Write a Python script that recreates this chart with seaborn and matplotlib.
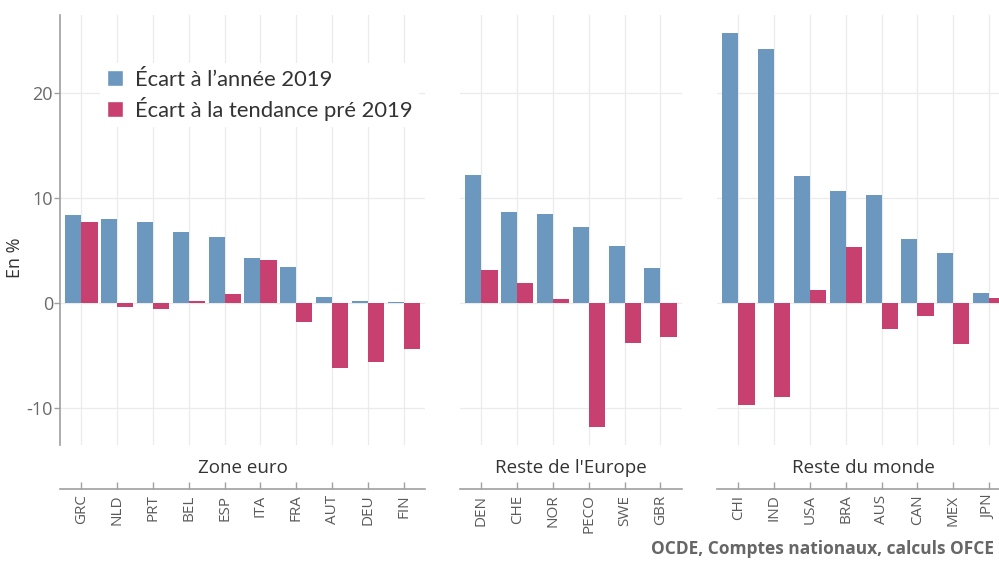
import matplotlib
matplotlib.use('Agg')
import matplotlib.pyplot as plt
import seaborn as sns
import pandas as pd
from matplotlib.patches import Patch

sns.set_theme(style='white')
plt.rcParams['font.family'] = ['Open Sans', 'DejaVu Sans']
plt.rcParams['axes.unicode_minus'] = False

# ---------------- data ----------------
series = ["Écart à l’année 2019", "Écart à la tendance pré 2019"]
couleurs = ['#6c97be', '#c8406f']

groupes = ['Zone euro', "Reste de l'Europe", 'Reste du monde']

pays_zone_euro = ['GRC', 'NLD', 'PRT', 'BEL', 'ESP', 'ITA', 'FRA', 'AUT', 'DEU', 'FIN']
ecart_2019_zone_euro = [8.4, 8.0, 7.7, 6.8, 6.3, 4.3, 3.4, 0.6, 0.2, 0.1]
ecart_tendance_zone_euro = [7.7, -0.4, -0.6, 0.2, 0.9, 4.1, -1.8, -6.2, -5.6, -4.4]

pays_europe = ['DEN', 'CHE', 'NOR', 'PECO', 'SWE', 'GBR']
ecart_2019_europe = [12.2, 8.7, 8.5, 7.2, 5.4, 3.3]
ecart_tendance_europe = [3.1, 1.9, 0.4, -11.8, -3.8, -3.2]

pays_monde = ['CHI', 'IND', 'USA', 'BRA', 'AUS', 'CAN', 'MEX', 'JPN']
ecart_2019_monde = [25.7, 24.2, 12.1, 10.7, 10.3, 6.1, 4.8, 1.0]
ecart_tendance_monde = [-9.7, -8.9, 1.2, 5.3, -2.5, -1.2, -3.9, 0.5]

yticks = [-10, 0, 10, 20]
source = 'OCDE, Comptes nationaux, calculs OFCE'

panneaux = [
    (groupes[0], pays_zone_euro, ecart_2019_zone_euro, ecart_tendance_zone_euro),
    (groupes[1], pays_europe, ecart_2019_europe, ecart_tendance_europe),
    (groupes[2], pays_monde, ecart_2019_monde, ecart_tendance_monde),
]

# ---------------- layout (pixels) ----------------
W, H = 999, 561
fig = plt.figure(figsize=(W / 100, H / 100), dpi=100)
fig.patch.set_facecolor('white')

spacing = 35.8
top_px, bottom_px = 15, 445
lefts = [60, 460, 717]
grid_c = '#ebebeb'
axis_c = '#a0a0a0'

for i, (groupe, pays, v1, v2) in enumerate(panneaux):
    n = len(pays)
    w_px = (n + 0.2) * spacing
    ax = fig.add_axes([lefts[i] / W, 1 - bottom_px / H, w_px / W, (bottom_px - top_px) / H])
    df = pd.DataFrame({
        'pays': pays * 2,
        'série': [series[0]] * n + [series[1]] * n,
        'valeur': list(v1) + list(v2),
    })
    sns.barplot(data=df, x='pays', y='valeur', hue='série', order=pays,
                hue_order=series, palette=couleurs, saturation=1, width=0.9,
                gap=0, errorbar=None, legend=False, ax=ax, linewidth=0)
    ax.set_xlim(-0.6, n - 0.4)
    ax.set_ylim(-13.5, 27.4)
    ax.set_yticks(yticks)
    ax.set_axisbelow(True)
    ax.grid(True, color=grid_c, lw=0.9)
    ax.set_xlabel('')
    ax.set_ylabel('')
    for s in ['top', 'right']:
        ax.spines[s].set_visible(False)
    ax.spines['bottom'].set_position(('outward', 44 * 0.72))
    ax.spines['bottom'].set_color(axis_c)
    ax.spines['bottom'].set_linewidth(1.2)
    ax.tick_params(axis='x', bottom=True, direction='in', length=5, width=1,
                   color=axis_c, labelrotation=90, labelsize=11,
                   labelcolor='#5a5a5a', pad=4)
    if i == 0:
        ax.spines['left'].set_color(axis_c)
        ax.spines['left'].set_linewidth(1.2)
        ax.tick_params(axis='y', left=True, direction='out', length=4, width=1,
                       color=axis_c, labelsize=13, labelcolor='#6a6a6a', pad=1)
        ax.legend(handles=[Patch(facecolor=c, label=s) for c, s in zip(couleurs, series)],
                  loc='upper left', bbox_to_anchor=(100 / W, 1 - 63 / H),
                  bbox_transform=fig.transFigure, frameon=True, fancybox=False,
                  facecolor='white', edgecolor='none', framealpha=1,
                  prop={'family': 'Lato', 'size': 15.8}, labelcolor='#333333',
                  handlelength=0.75, handleheight=0.75, handletextpad=0.55,
                  labelspacing=0.32, borderpad=0.3, borderaxespad=0)
    else:
        ax.spines['left'].set_visible(False)
        ax.tick_params(axis='y', left=False, labelleft=False)
    cx = lefts[i] + w_px / 2
    fig.text(cx / W, 1 - 468 / H, groupe, ha='center', va='center',
             fontsize=13.5, color='#333333')

fig.text(15 / W, 1 - 258 / H, 'En %', rotation=90, ha='center', va='center',
         fontsize=13, color='#333333')
fig.text(994 / W, 1 - 549 / H, source, ha='right', va='center',
         fontsize=12.5, fontweight='bold', color='#666666')

fig.savefig('out.png', dpi=100)
